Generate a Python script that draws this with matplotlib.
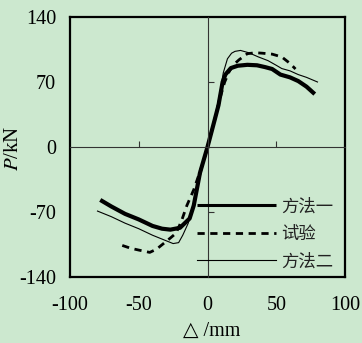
import matplotlib
matplotlib.use("Agg")
import matplotlib.pyplot as plt

plt.rcParams["mathtext.fontset"] = "stix"
plt.rcParams["axes.unicode_minus"] = False

# ---- data ----
x_m1 = [-78, -70, -60, -50, -40, -33, -27, -20, -13, -10, -5.5, 0, 5, 8, 11, 13, 17, 22, 29, 36, 42, 47, 53, 60, 66, 72, 78]
y_m1 = [-57, -64, -72, -78, -85, -88, -89, -87, -77, -63, -28, 0, 28, 45, 70, 78, 85, 87.5, 88.5, 88, 86, 84, 78, 75, 71, 65, 57]

x_m2 = [-80, -70, -60, -50, -40, -30, -25, -21, -18, -14, -10, -5, 0, 5, 9, 11.5, 14.5, 17.5, 20, 24, 30, 37, 44, 50, 54, 60, 66, 72, 80]
y_m2 = [-69, -75, -82, -88, -95, -101, -104, -103, -95, -82, -60, -30, 0, 30, 58, 80, 95, 101, 103, 104, 101.5, 97, 93, 88, 84.5, 82, 78, 75, 70]

x_ex = [-62, -56, -50, -42, -37, -32, -27, -23, -19, -15, -10, -3, 0, 5, 9, 12.5, 16, 20, 23, 29, 35, 40, 47, 54, 60, 64]
y_ex = [-106, -109, -111, -113.5, -110, -104, -98, -93, -80, -63, -46, -16, 0, 28, 52, 70, 82, 90, 94, 100.5, 101.5, 101, 100, 97, 90, 84]

labels = ["方法一", "试验", "方法二"]
xticks = [-100, -50, 0, 50, 100]
yticks = [-140, -70, 0, 70, 140]
xlim = (-100, 100)
ylim = (-140, 140)

bg = "#cce8cf"
serif = ["Liberation Serif", "DejaVu Serif"]
cjk = ["Noto Sans CJK SC", "DejaVu Sans"]

fig = plt.figure(figsize=(3.62, 3.43), dpi=100, facecolor=bg)
pos = [70/362, 1-277/343, 275/362, 260/343]
ax = fig.add_axes(pos)
ax.set_facecolor(bg)
ax.set_xlim(*xlim)
ax.set_ylim(*ylim)

for s in ax.spines.values():
    s.set_linewidth(1.6)
    s.set_color("black")

ax.set_xticks(xticks)
ax.set_yticks(yticks)
ax.tick_params(length=0, labelsize=14.5)
ax.tick_params(axis="y", pad=10)
ax.tick_params(axis="x", pad=14)
for t in ax.get_xticklabels() + ax.get_yticklabels():
    t.set_fontfamily(serif)

# zero lines with inner ticks
ax2 = fig.add_axes(pos)
ax2.set_xlim(*xlim)
ax2.set_ylim(*ylim)
ax2.patch.set_visible(False)
ax2.spines["top"].set_visible(False)
ax2.spines["right"].set_visible(False)
ax2.spines["left"].set_position(("data", 0))
ax2.spines["bottom"].set_position(("data", 0))
for k in ("left", "bottom"):
    ax2.spines[k].set_linewidth(0.8)
    ax2.spines[k].set_color("#333333")
ax2.set_xticks([-50, 50])
ax2.set_yticks([-70, 70])
ax2.tick_params(direction="in", length=4.5, width=0.8, color="#333333",
                labelbottom=False, labelleft=False)

l1, = ax2.plot(x_m1, y_m1, color="black", lw=3.0, solid_capstyle="butt")
l2, = ax2.plot(x_ex, y_ex, color="black", lw=2.0, linestyle=(0, (2.6, 2.0)))
l3, = ax2.plot(x_m2, y_m2, color="black", lw=0.8)

leg = ax2.legend([l1, l2, l3], labels, loc="lower right",
                 bbox_to_anchor=(1.0, -0.022), frameon=False,
                 handlelength=4.6, handletextpad=0.25, labelspacing=0.55,
                 borderaxespad=0.3, prop={"family": cjk, "size": 12.5})
leg.get_lines()[0].set_linewidth(2.2)
for t in leg.get_texts():
    t.set_color("#222222")

fig.text(212/362, 1-331/343, "△ /mm", ha="center", va="center",
         fontsize=14.5, family=["Liberation Serif", "DejaVu Sans"])
fig.text(13/362, 1-148/343, "$\\it{P}$/kN", ha="center", va="center",
         rotation=90, fontsize=15, family=serif)

fig.savefig("out.png", dpi=100, facecolor=bg)
